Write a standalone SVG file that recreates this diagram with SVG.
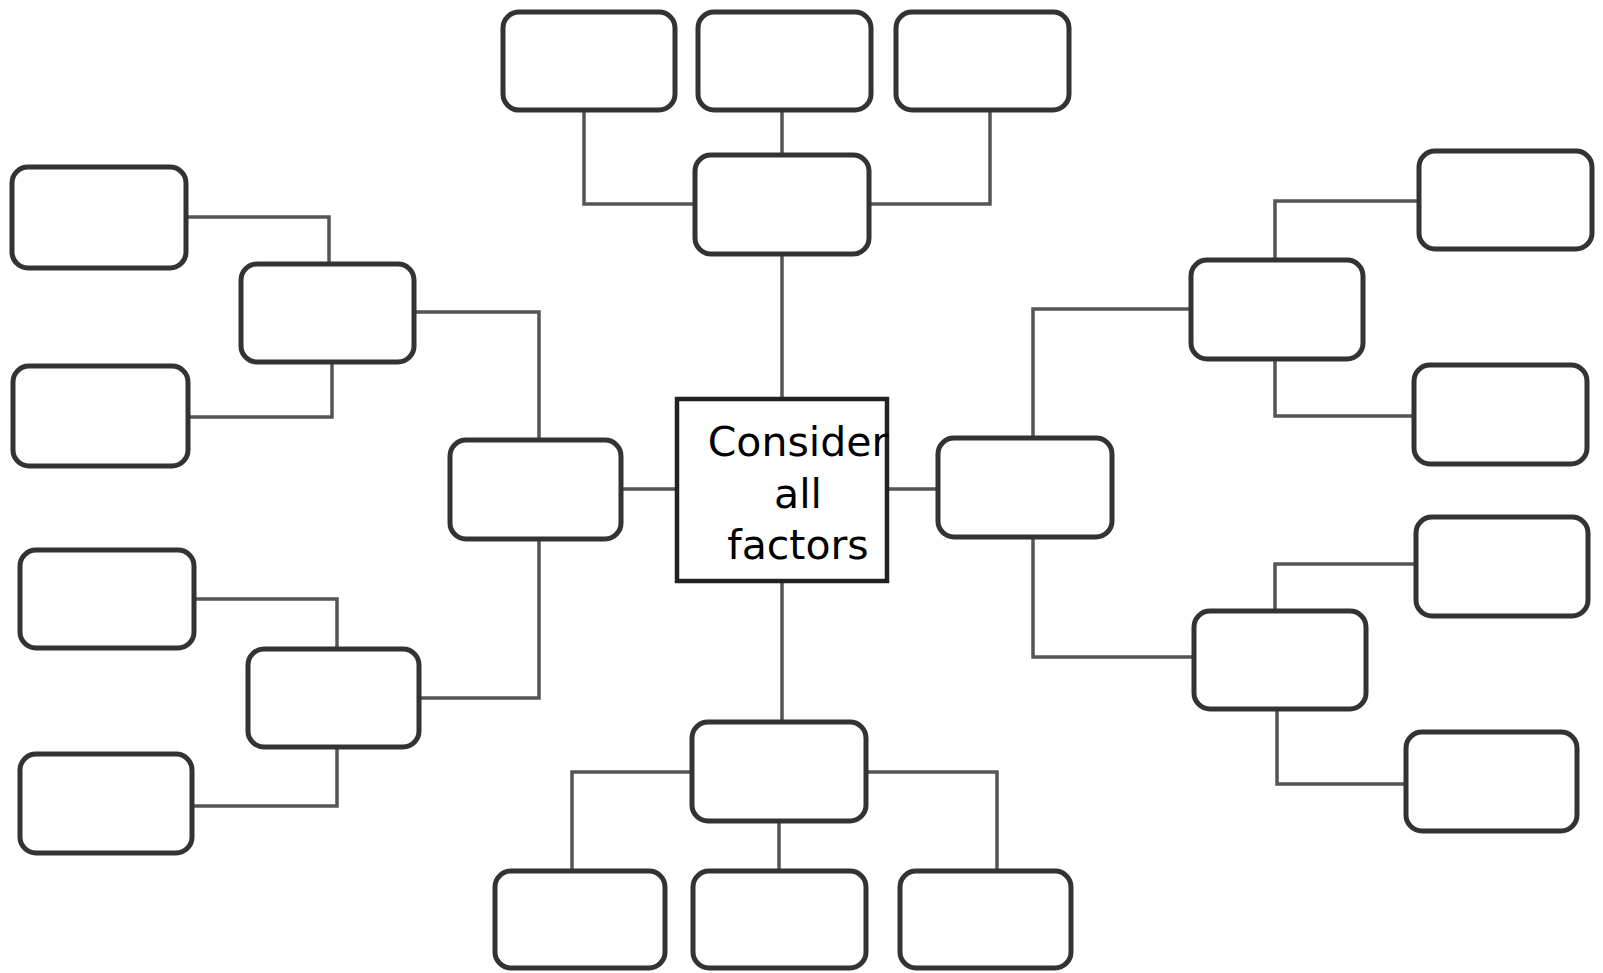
<svg xmlns="http://www.w3.org/2000/svg" width="1603" height="973" viewBox="0 0 1603 973">
<style>
.box{fill:#fff;stroke:#333;stroke-width:5}
.center{fill:#fff;stroke:#222;stroke-width:4.5}
.conn{fill:none;stroke:#555;stroke-width:3.5}
.lbl{font-family:"DejaVu Sans",sans-serif;font-size:41px;fill:#000;text-anchor:middle}
</style>
<rect width="1603" height="973" fill="#fff"/>
<g id="connectors">
<path class="conn" d="M584,110 V204 H695"/>
<path class="conn" d="M782,110 V155"/>
<path class="conn" d="M990,110 V204 H869"/>
<path class="conn" d="M782,254 V399"/>
<path class="conn" d="M621,489 H677"/>
<path class="conn" d="M887,489 H938"/>
<path class="conn" d="M782,581 V722"/>
<path class="conn" d="M539,440 V312 H414"/>
<path class="conn" d="M539,539 V698 H419"/>
<path class="conn" d="M329,264 V217 H186"/>
<path class="conn" d="M332,362 V417 H188"/>
<path class="conn" d="M337,649 V599 H194"/>
<path class="conn" d="M337,747 V806 H192"/>
<path class="conn" d="M1033,438 V309 H1191"/>
<path class="conn" d="M1033,537 V657 H1194"/>
<path class="conn" d="M1275,260 V201 H1419"/>
<path class="conn" d="M1275,359 V416 H1414"/>
<path class="conn" d="M1275,611 V564 H1416"/>
<path class="conn" d="M1277,709 V784 H1406"/>
<path class="conn" d="M692,772 H572 V871"/>
<path class="conn" d="M866,772 H997 V871"/>
<path class="conn" d="M779,821 V871"/>
</g>
<g id="t1"><rect class="box" x="503" y="12" width="172" height="98" rx="16"/></g>
<g id="t2"><rect class="box" x="698" y="12" width="173" height="98" rx="16"/></g>
<g id="t3"><rect class="box" x="896" y="12" width="173" height="98" rx="16"/></g>
<g id="tm"><rect class="box" x="695" y="155" width="174" height="99" rx="16"/></g>
<g id="center"><rect class="center" x="677" y="399" width="210" height="182"/>
<text class="lbl" x="798" y="456">Consider</text>
<text class="lbl" x="798" y="508">all</text>
<text class="lbl" x="798" y="559">factors</text></g>
<g id="lm"><rect class="box" x="450" y="440" width="171" height="99" rx="16"/></g>
<g id="l1"><rect class="box" x="241" y="264" width="173" height="98" rx="16"/></g>
<g id="ll1"><rect class="box" x="12" y="167" width="174" height="101" rx="16"/></g>
<g id="ll2"><rect class="box" x="13" y="366" width="175" height="100" rx="16"/></g>
<g id="l2"><rect class="box" x="248" y="649" width="171" height="98" rx="16"/></g>
<g id="ll3"><rect class="box" x="20" y="550" width="174" height="98" rx="16"/></g>
<g id="ll4"><rect class="box" x="20" y="754" width="172" height="99" rx="16"/></g>
<g id="rm"><rect class="box" x="938" y="438" width="174" height="99" rx="16"/></g>
<g id="r1"><rect class="box" x="1191" y="260" width="172" height="99" rx="16"/></g>
<g id="rr1"><rect class="box" x="1419" y="151" width="173" height="98" rx="16"/></g>
<g id="rr2"><rect class="box" x="1414" y="365" width="173" height="99" rx="16"/></g>
<g id="r2"><rect class="box" x="1194" y="611" width="172" height="98" rx="16"/></g>
<g id="rr3"><rect class="box" x="1416" y="517" width="172" height="99" rx="16"/></g>
<g id="rr4"><rect class="box" x="1406" y="732" width="171" height="99" rx="16"/></g>
<g id="bm"><rect class="box" x="692" y="722" width="174" height="99" rx="16"/></g>
<g id="b1"><rect class="box" x="495" y="871" width="170" height="97" rx="16"/></g>
<g id="b2"><rect class="box" x="693" y="871" width="173" height="97" rx="16"/></g>
<g id="b3"><rect class="box" x="900" y="871" width="171" height="97" rx="16"/></g>
</svg>
